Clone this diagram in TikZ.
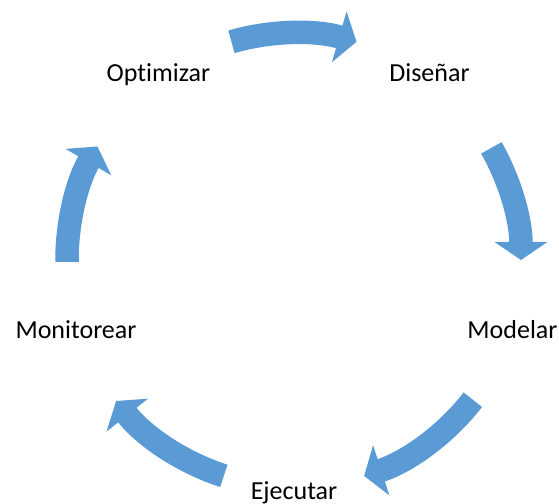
\documentclass[tikz,border=0pt]{standalone}
\usepackage{fontspec}
\setmainfont{Carlito}[Ligatures=CommonOff]
\usetikzlibrary{arrows.meta}
\definecolor{cycleblue}{HTML}{5B9BD5}
\tikzset{
  cyclearrow/.style={draw=cycleblue, line width=11.75pt, -{Triangle[width=26pt,length=9pt]}},
  steplabel/.style={anchor=base, font=\fontsize{13}{15}\selectfont}
}
\begin{document}
\begin{tikzpicture}[x=0.5pt,y=0.5pt]
    \useasboundingbox (-294,-244) rectangle (265,260);
    \node[steplabel] (disenar) at (135.5,178) {Diseñar};
    \node[steplabel] (modelar) at (218.5,-79) {Modelar};
    \node[steplabel] (ejecutar) at (0,-240) {Ejecutar};
    \node[steplabel] (monitorear) at (-218,-79) {Monitorear};
    \node[steplabel] (optimizar) at (-135.5,178) {Optimizar};
    \foreach \a/\b in {106/74, 29.6/0, -38/-72, -108/-141.6, 180.5/150}
      \draw[cyclearrow] (\a:227) arc[start angle=\a, end angle=\b, radius=113.5pt];
\end{tikzpicture}
\end{document}
